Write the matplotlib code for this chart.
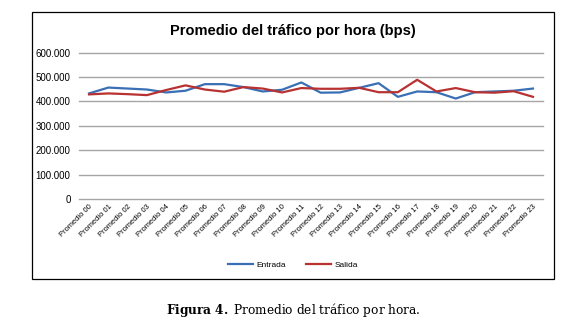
import matplotlib
matplotlib.use("Agg")
import matplotlib.pyplot as plt
from matplotlib.patches import Rectangle
from matplotlib.ticker import FuncFormatter

categories = [f"Promedio {h:02d}" for h in range(24)]
entrada = [433, 457, 453, 449, 437, 444, 471, 471, 459, 441, 448, 478,
           436, 437, 456, 475, 419, 441, 438, 412, 438, 441, 444, 453]
salida = [429, 433, 430, 426, 447, 466, 449, 440, 459, 453, 437, 455,
          452, 452, 456, 438, 438, 489, 441, 455, 438, 436, 442, 419]
entrada = [v * 1000 for v in entrada]
salida = [v * 1000 for v in salida]
yticks = [0, 100000, 200000, 300000, 400000, 500000, 600000]

W, H = 578, 324
plt.rcParams['font.family'] = ['Liberation Sans', 'DejaVu Sans']
plt.rcParams['mathtext.fontset'] = 'dejavuserif'
fig = plt.figure(figsize=(W / 100, H / 100), dpi=100)

# outer chart box
fig.patches.append(Rectangle((32 / W, 1 - 279 / H), (554 - 32) / W, (279 - 12) / H,
                             transform=fig.transFigure, fill=False,
                             edgecolor='black', linewidth=0.9))

ax = fig.add_axes([79 / W, 1 - 199 / H, (543 - 79) / W, (199 - 52.7) / H])
x = list(range(len(categories)))
ax.plot(x, entrada, color='#3a6fb5', linewidth=1.6, label='Entrada')
ax.plot(x, salida, color='#b83232', linewidth=1.6, label='Salida')

ax.set_xlim(-0.52, 23.52)
ax.set_ylim(0, 600000)
ax.set_yticks(yticks)
ax.yaxis.set_major_formatter(FuncFormatter(lambda v, p: f"{int(v):,}".replace(",", ".")))
ax.grid(axis='y', color='#a6a6a6', linewidth=1.0)
for gl in ax.get_ygridlines():
    gl.set_clip_on(False)
ax.set_axisbelow(True)
for s in ax.spines.values():
    s.set_visible(False)
ax.tick_params(axis='y', length=0, labelsize=7, pad=6)
ax.tick_params(axis='x', length=0, labelsize=5.4, pad=3)
ax.set_xticks(x)
ax.set_xticklabels(categories, rotation=45, ha='right', va='top', rotation_mode='anchor')

fig.text(293 / W, 1 - 31 / H, "Promedio del tráfico por hora (bps)", ha='center', va='center',
         fontsize=10.5, fontweight='bold')

leg = ax.legend(loc='center', bbox_to_anchor=(293 / W, 1 - 265 / H), bbox_transform=fig.transFigure,
                ncol=2, frameon=False, fontsize=6, handlelength=3.0, columnspacing=2.5,
                handletextpad=0.4)

fig.text(293 / W, 1 - 310 / H, r"$\mathbf{Figura\ 4.}$ Promedio del tráfico por hora.",
         ha='center', va='center', fontsize=8.7, family='DejaVu Serif')

fig.savefig("out.png", dpi=100)
